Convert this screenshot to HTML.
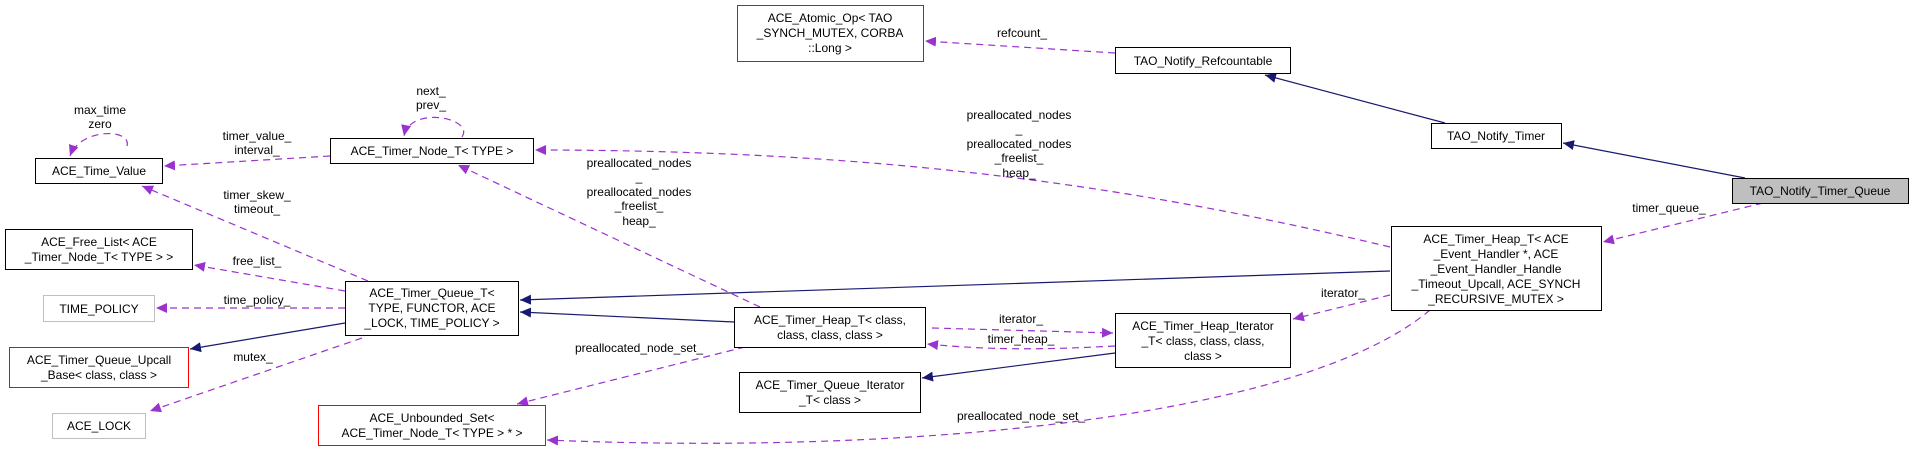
<!DOCTYPE html>
<html><head><meta charset="utf-8"><style>
html,body{margin:0;padding:0;background:#fff;}
svg{display:block;}
text{font-family:"Liberation Sans",Arial,sans-serif;font-size:12px;fill:#000;}
</style></head><body>
<svg width="1913" height="453" viewBox="0 0 1913 453" xmlns="http://www.w3.org/2000/svg">
<defs>
<marker id="ap" markerWidth="12" markerHeight="10" refX="11" refY="5" orient="auto" markerUnits="userSpaceOnUse"><path d="M0,0 L11,5 L0,10 z" fill="#9a32cd"/></marker>
<marker id="an" markerWidth="12" markerHeight="10" refX="11" refY="5" orient="auto" markerUnits="userSpaceOnUse"><path d="M0,0 L11,5 L0,10 z" fill="#191970"/></marker>
</defs>
<g fill="none" stroke="#9a32cd" stroke-width="1.2" stroke-dasharray="7,5">
<path d="M1115,53 L925,41" marker-end="url(#ap)"/>
<path d="M1763,203 L1603,242" marker-end="url(#ap)"/>
<path d="M1390,247 C1150,190 900,150 535,150" marker-end="url(#ap)"/>
<path d="M1390,295 L1293,319" marker-end="url(#ap)"/>
<path d="M932,328 L1113,333" marker-end="url(#ap)"/>
<path d="M1115,346 C1040,350 990,350 927,344" marker-end="url(#ap)"/>
<path d="M760,307 L458,165" marker-end="url(#ap)"/>
<path d="M745,347 L517,404" marker-end="url(#ap)"/>
<path d="M1430,310 C1300,420 900,455 547,440" marker-end="url(#ap)"/>
<path d="M368,281 L142,186" marker-end="url(#ap)"/>
<path d="M345,291 L194,265" marker-end="url(#ap)"/>
<path d="M345,308 L156,308" marker-end="url(#ap)"/>
<path d="M362,338 L150,411" marker-end="url(#ap)"/>
<path d="M330,156 L164,166" marker-end="url(#ap)"/>
<path d="M127,146 C132,128 80,128 70,156" marker-end="url(#ap)"/>
<path d="M462,137 C475,118 410,105 404,136" marker-end="url(#ap)"/>
</g>
<g fill="none" stroke="#191970" stroke-width="1.2">
<path d="M1445,123 L1265,75" marker-end="url(#an)"/>
<path d="M1745,178 L1563,143" marker-end="url(#an)"/>
<path d="M1390,271 L520,300" marker-end="url(#an)"/>
<path d="M734,322 L520,312" marker-end="url(#an)"/>
<path d="M1115,353 L922,378" marker-end="url(#an)"/>
<path d="M345,323 L190,349" marker-end="url(#an)"/>
</g>
<g stroke-width="1" fill="#fff">
<rect x="737.5" y="5.5" width="186" height="56" stroke="#ff0000"/>
<rect x="1115.5" y="47.5" width="175" height="26" stroke="#000"/>
<rect x="1431.5" y="123.5" width="130" height="25" stroke="#000"/>
<rect x="1732.5" y="178.5" width="176" height="25" stroke="#000" fill="#bfbfbf"/>
<rect x="1391.5" y="226.5" width="210" height="84" stroke="#000"/>
<rect x="35.5" y="158.5" width="127" height="25" stroke="#000"/>
<rect x="330.5" y="138.5" width="203" height="25" stroke="#000"/>
<rect x="5.5" y="229.5" width="187" height="40" stroke="#000"/>
<rect x="43.5" y="295.5" width="111" height="26" stroke="#bfbfbf"/>
<rect x="9.5" y="347.5" width="179" height="40" stroke="#ff0000"/>
<rect x="52.5" y="413.5" width="93" height="25" stroke="#bfbfbf"/>
<rect x="345.5" y="281.5" width="173" height="54" stroke="#000"/>
<rect x="318.5" y="405.5" width="227" height="40" stroke="#ff0000"/>
<rect x="734.5" y="307.5" width="191" height="40" stroke="#000"/>
<rect x="1115.5" y="313.5" width="175" height="54" stroke="#000"/>
<rect x="739.5" y="372.5" width="181" height="40" stroke="#000"/>
</g>
<g text-anchor="middle">
<text x="830" y="22">ACE_Atomic_Op&lt; TAO</text>
<text x="830" y="37">_SYNCH_MUTEX, CORBA</text>
<text x="830" y="52">::Long &gt;</text>
<text x="1203" y="65">TAO_Notify_Refcountable</text>
<text x="1496" y="140">TAO_Notify_Timer</text>
<text x="1820" y="195">TAO_Notify_Timer_Queue</text>
<text x="1496" y="243">ACE_Timer_Heap_T&lt; ACE</text>
<text x="1496" y="258">_Event_Handler *, ACE</text>
<text x="1496" y="273">_Event_Handler_Handle</text>
<text x="1496" y="288">_Timeout_Upcall, ACE_SYNCH</text>
<text x="1496" y="303">_RECURSIVE_MUTEX &gt;</text>
<text x="99" y="175">ACE_Time_Value</text>
<text x="432" y="155">ACE_Timer_Node_T&lt; TYPE &gt;</text>
<text x="99" y="246">ACE_Free_List&lt; ACE</text>
<text x="99" y="261">_Timer_Node_T&lt; TYPE &gt; &gt;</text>
<text x="99" y="313">TIME_POLICY</text>
<text x="99" y="364">ACE_Timer_Queue_Upcall</text>
<text x="99" y="379">_Base&lt; class, class &gt;</text>
<text x="99" y="430">ACE_LOCK</text>
<text x="432" y="297">ACE_Timer_Queue_T&lt;</text>
<text x="432" y="312">TYPE, FUNCTOR, ACE</text>
<text x="432" y="327">_LOCK, TIME_POLICY &gt;</text>
<text x="432" y="422">ACE_Unbounded_Set&lt;</text>
<text x="432" y="437">ACE_Timer_Node_T&lt; TYPE &gt; * &gt;</text>
<text x="830" y="324">ACE_Timer_Heap_T&lt; class,</text>
<text x="830" y="339">class, class, class &gt;</text>
<text x="1203" y="330">ACE_Timer_Heap_Iterator</text>
<text x="1203" y="345">_T&lt; class, class, class,</text>
<text x="1203" y="360">class &gt;</text>
<text x="830" y="389">ACE_Timer_Queue_Iterator</text>
<text x="830" y="404">_T&lt; class &gt;</text>
<text x="1022" y="37">refcount_</text>
<text x="1019" y="119">preallocated_nodes</text>
<text x="1019" y="133">_</text>
<text x="1019" y="148">preallocated_nodes</text>
<text x="1019" y="162">_freelist_</text>
<text x="1019" y="177">heap_</text>
<text x="639" y="167">preallocated_nodes</text>
<text x="639" y="181">_</text>
<text x="639" y="196">preallocated_nodes</text>
<text x="639" y="210">_freelist_</text>
<text x="639" y="225">heap_</text>
<text x="1669" y="212">timer_queue_</text>
<text x="1343" y="297">iterator_</text>
<text x="1021" y="323">iterator_</text>
<text x="1021" y="343">timer_heap_</text>
<text x="639" y="352">preallocated_node_set_</text>
<text x="1021" y="420">preallocated_node_set_</text>
<text x="100" y="114">max_time</text>
<text x="100" y="128">zero</text>
<text x="431" y="95">next_</text>
<text x="431" y="109">prev_</text>
<text x="257" y="140">timer_value_</text>
<text x="257" y="154">interval_</text>
<text x="257" y="199">timer_skew_</text>
<text x="257" y="213">timeout_</text>
<text x="257" y="265">free_list_</text>
<text x="257" y="304">time_policy_</text>
<text x="253" y="361">mutex_</text>
</g>
</svg>
</body></html>
